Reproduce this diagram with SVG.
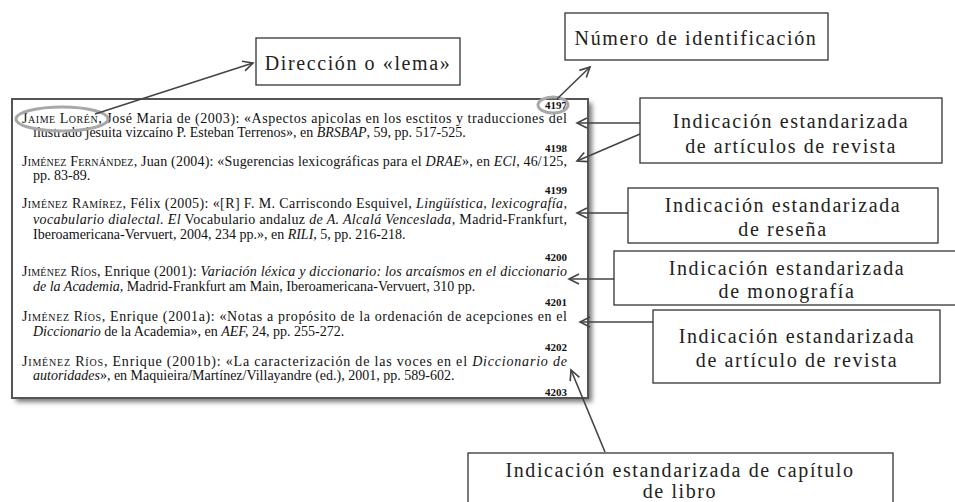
<svg xmlns="http://www.w3.org/2000/svg" width="955" height="502" viewBox="0 0 955 502">
<defs>
<style>
.t{font-family:"Liberation Serif","Times New Roman",serif;font-size:14px;fill:#111}
.n{font-family:"Liberation Serif","Times New Roman",serif;font-size:11px;font-weight:bold;fill:#111;text-anchor:end}
.sc{font-variant:small-caps}
.i{font-style:italic}
.lb{font-family:"Liberation Serif","Times New Roman",serif;font-size:20px;letter-spacing:1.6px;fill:#222;text-anchor:middle}
.box{fill:#fff;stroke:#333;stroke-width:1.3}
.c{stroke:#444;stroke-width:1.6;fill:none}
.hl{fill:none;stroke:#a8a8a8;stroke-width:3}
</style>
<marker id="ah" markerUnits="userSpaceOnUse" markerWidth="14" markerHeight="14" refX="11" refY="6" orient="auto">
<path d="M1,1 L11,6 L1,11" fill="none" stroke="#444" stroke-width="1.6"/>
</marker>
<filter id="sh" x="-5%" y="-5%" width="110%" height="110%">
<feGaussianBlur stdDeviation="2.5"/>
</filter>
</defs>
<rect width="955" height="502" fill="#fff"/>

<g id="panel">
<rect x="16" y="103" width="576" height="299" fill="#777" filter="url(#sh)"/>
<rect x="12" y="99" width="576" height="299" fill="#fff" stroke="#555" stroke-width="2"/>
<text class="n" x="567" y="109">4197</text>
<text class="t" x="22" y="123" textLength="545" lengthAdjust="spacing"><tspan class="sc">Jaime Lorén</tspan>, José Maria de (2003): «Aspectos apicolas en los esctitos y traducciones del</text>
<text class="t" x="33" y="137">ilustrado jesuita vizcaíno P. Esteban Terrenos», en <tspan class="i">BRSBAP</tspan>, 59, pp. 517-525.</text>
<text class="n" x="567" y="152">4198</text>
<text class="t" x="22" y="166" textLength="545" lengthAdjust="spacing"><tspan class="sc">Jiménez Fernández</tspan>, Juan (2004): «Sugerencias lexicográficas para el <tspan class="i">DRAE</tspan>», en <tspan class="i">ECl</tspan>, 46/125,</text>
<text class="t" x="33" y="180">pp. 83-89.</text>
<text class="n" x="567" y="194">4199</text>
<text class="t" x="22" y="208" textLength="545" lengthAdjust="spacing"><tspan class="sc">Jiménez Ramírez</tspan>, Félix (2005): «[R] F. M. Carriscondo Esquivel, <tspan class="i">Lingüística, lexicografía,</tspan></text>
<text class="t" x="33" y="224" textLength="534" lengthAdjust="spacing"><tspan class="i">vocabulario dialectal. El</tspan> Vocabulario andaluz <tspan class="i">de A. Alcalá Venceslada,</tspan> Madrid-Frankfurt,</text>
<text class="t" x="33" y="239">Iberoamericana-Vervuert, 2004, 234 pp.», en <tspan class="i">RILI</tspan>, 5, pp. 216-218.</text>
<text class="n" x="567" y="261">4200</text>
<text class="t" x="22" y="276" textLength="545" lengthAdjust="spacing"><tspan class="sc">Jiménez Ríos</tspan>, Enrique (2001): <tspan class="i">Variación léxica y diccionario: los arcaísmos en el diccionario</tspan></text>
<text class="t" x="33" y="291"><tspan class="i">de la Academia,</tspan> Madrid-Frankfurt am Main, Iberoamericana-Vervuert, 310 pp.</text>
<text class="n" x="567" y="306">4201</text>
<text class="t" x="22" y="321" textLength="545" lengthAdjust="spacing"><tspan class="sc">Jiménez Ríos</tspan>, Enrique (2001a): «Notas a propósito de la ordenación de acepciones en el</text>
<text class="t" x="33" y="336"><tspan class="i">Diccionario</tspan> de la Academia», en <tspan class="i">AEF,</tspan> 24, pp. 255-272.</text>
<text class="n" x="567" y="351">4202</text>
<text class="t" x="22" y="366" textLength="545" lengthAdjust="spacing"><tspan class="sc">Jiménez Ríos</tspan>, Enrique (2001b): «La caracterización de las voces en el <tspan class="i">Diccionario de</tspan></text>
<text class="t" x="33" y="380"><tspan class="i">autoridades</tspan>», en Maquieira/Martínez/Villayandre (ed.), 2001, pp. 589-602.</text>
<text class="n" x="567" y="396">4203</text>
<ellipse class="hl" cx="62" cy="119" rx="46" ry="12"/>
<ellipse class="hl" cx="553" cy="105" rx="15" ry="8"/>
</g>

<g id="connectors">
<line class="c" x1="95" y1="114" x2="253" y2="63" marker-end="url(#ah)"/>
<line class="c" x1="557" y1="99" x2="590" y2="67" marker-end="url(#ah)"/>
<line class="c" x1="640" y1="123" x2="577" y2="123" marker-end="url(#ah)"/>
<line class="c" x1="640" y1="134" x2="577" y2="161" marker-end="url(#ah)"/>
<line class="c" x1="628" y1="213" x2="577" y2="213" marker-end="url(#ah)"/>
<line class="c" x1="614" y1="279" x2="569" y2="279" marker-end="url(#ah)"/>
<line class="c" x1="653" y1="322" x2="580" y2="322" marker-end="url(#ah)"/>
<line class="c" x1="605" y1="452" x2="571" y2="370" marker-end="url(#ah)"/>
</g>

<g id="lema">
<rect class="box" x="256" y="38" width="204" height="47"/>
<text class="lb" x="358" y="70">Dirección o «lema»</text>
</g>
<g id="numero">
<rect class="box" x="565" y="13" width="263" height="47"/>
<text class="lb" x="696" y="45">Número de identificación</text>
</g>
<g id="articulos">
<rect class="box" x="640" y="98" width="302" height="65"/>
<text class="lb" x="791" y="128">Indicación estandarizada</text>
<text class="lb" x="791" y="153">de artículos de revista</text>
</g>
<g id="resena">
<rect class="box" x="628" y="188" width="310" height="55"/>
<text class="lb" x="783" y="212">Indicación estandarizada</text>
<text class="lb" x="783" y="236">de reseña</text>
</g>
<g id="monografia">
<rect class="box" x="614" y="251" width="345" height="54"/>
<text class="lb" x="787" y="275">Indicación estandarizada</text>
<text class="lb" x="787" y="298">de monografía</text>
</g>
<g id="articulo">
<rect class="box" x="653" y="310" width="287" height="73"/>
<text class="lb" x="797" y="343">Indicación estandarizada</text>
<text class="lb" x="797" y="367">de artículo de revista</text>
</g>
<g id="capitulo">
<rect class="box" x="468" y="453" width="425" height="60"/>
<text class="lb" x="680" y="477">Indicación estandarizada de capítulo</text>
<text class="lb" x="680" y="498">de libro</text>
</g>
</svg>
